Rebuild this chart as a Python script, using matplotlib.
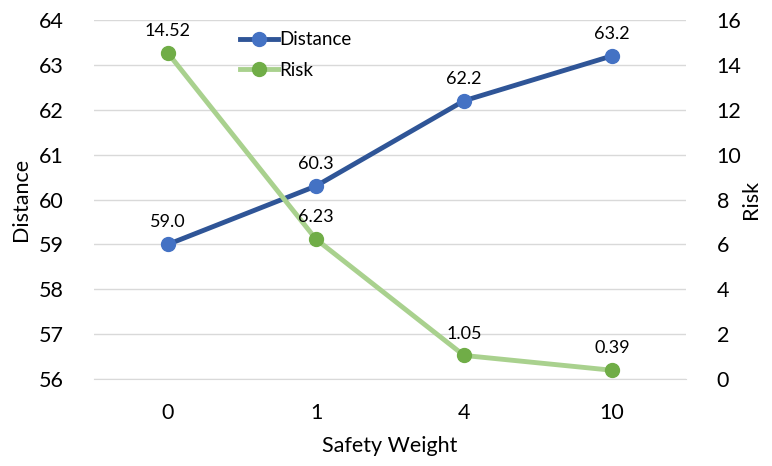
import matplotlib
matplotlib.use("Agg")
import matplotlib.pyplot as plt
from matplotlib.lines import Line2D

plt.rcParams['font.family'] = ['Lato', 'DejaVu Sans']

categories = ["0", "1", "4", "10"]
distance = [59.0, 60.3, 62.2, 63.2]
risk = [14.52, 6.23, 1.05, 0.39]
distance_labels = ["59.0", "60.3", "62.2", "63.2"]
risk_labels = ["14.52", "6.23", "1.05", "0.39"]

fig = plt.figure(figsize=(7.72, 4.66), dpi=100)
ax = fig.add_axes([94 / 772, 1 - 379 / 466, (686 - 94) / 772, (379 - 20) / 466])
ax2 = ax.twinx()

x = list(range(len(categories)))

ax.set_ylim(56, 64)
ax.set_yticks(range(56, 65))
ax2.set_ylim(0, 16)
ax2.set_yticks(range(0, 17, 2))
ax.set_xlim(-0.5, len(categories) - 0.5)
ax.set_xticks(x)
ax.set_xticklabels(categories)

ax.grid(axis='y', color='#d9d9d9', linewidth=1)
ax.set_axisbelow(True)
for a in (ax, ax2):
    for s in a.spines.values():
        s.set_visible(False)
    a.tick_params(length=0, labelsize=15.5, colors='#000000')
ax.spines['bottom'].set_visible(True)
ax.spines['bottom'].set_color('#d9d9d9')
ax.tick_params(axis='x', pad=17)
ax.tick_params(axis='y', pad=22)
ax2.tick_params(axis='y', pad=22)

dist_line_c, dist_mark_c = '#2f5597', '#4472c4'
risk_line_c, risk_mark_c = '#a9d18e', '#70ad47'

ax.plot(x, distance, color=dist_line_c, linewidth=3.5, marker='o', markersize=10,
        markerfacecolor=dist_mark_c, markeredgecolor=dist_mark_c, zorder=3)
ax2.plot(x, risk, color=risk_line_c, linewidth=3.5, marker='o', markersize=10,
         markerfacecolor=risk_mark_c, markeredgecolor=risk_mark_c, zorder=3)

for xi, v, t in zip(x, distance, distance_labels):
    ax.annotate(t, (xi, v), xytext=(0, 10), textcoords='offset points',
                ha='center', va='bottom', fontsize=13)
for xi, v, t in zip(x, risk, risk_labels):
    ax2.annotate(t, (xi, v), xytext=(0, 10), textcoords='offset points',
                 ha='center', va='bottom', fontsize=13)

ax.set_xlabel("Safety Weight", fontsize=15.5, labelpad=10)
ax.set_ylabel("Distance", fontsize=15.5, labelpad=5)
ax2.set_ylabel("Risk", fontsize=15.5, labelpad=0)

handles = [
    Line2D([], [], color=dist_line_c, linewidth=3.5, marker='o', markersize=10,
           markerfacecolor=dist_mark_c, markeredgecolor=dist_mark_c),
    Line2D([], [], color=risk_line_c, linewidth=3.5, marker='o', markersize=10,
           markerfacecolor=risk_mark_c, markeredgecolor=risk_mark_c),
]
leg = ax2.legend(handles, ["Distance", "Risk"], loc='upper left',
                 bbox_to_anchor=(231 / 772, 1 - 22 / 466), bbox_transform=fig.transFigure,
                 frameon=False, fontsize=13.5, handlelength=2.0, handletextpad=0.05,
                 labelspacing=0.7, borderpad=0)

fig.savefig("out.png", dpi=100)
